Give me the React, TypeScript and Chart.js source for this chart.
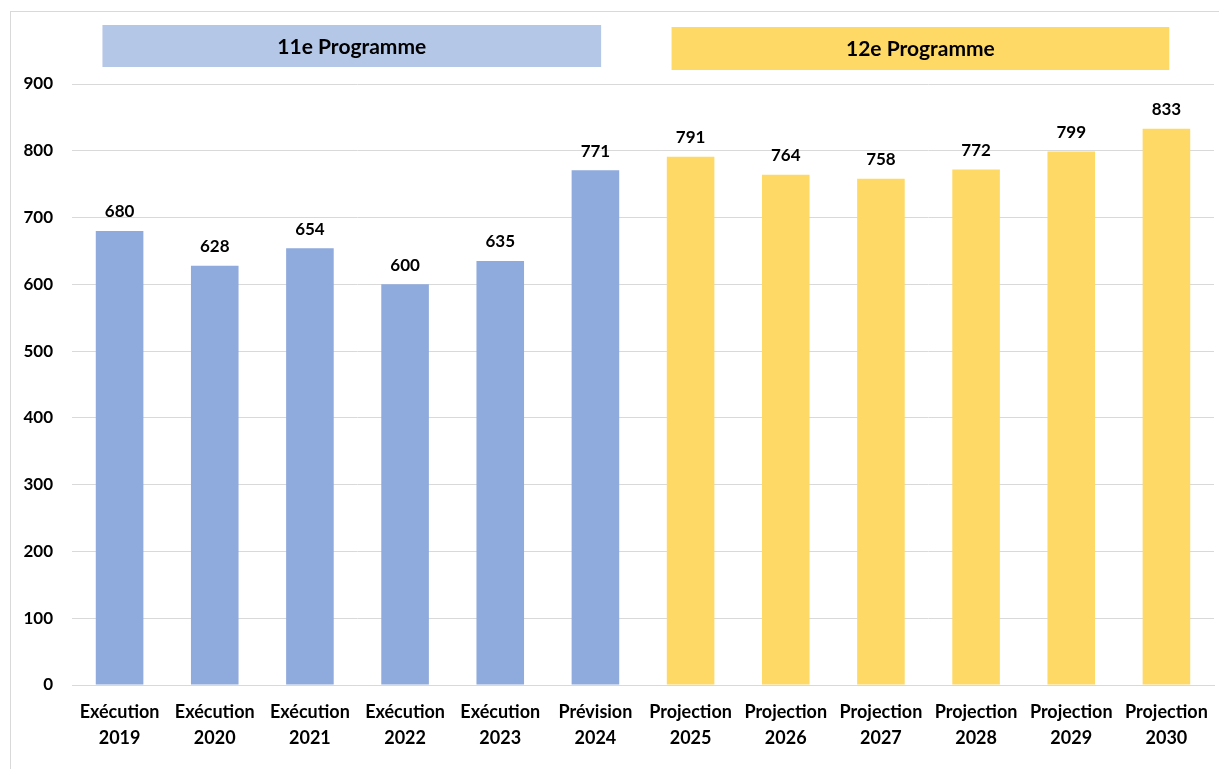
import React, { useEffect, useRef } from "react";
import { Chart, registerables } from "chart.js";

Chart.register(...registerables);

const categories: string[][] = [
  ["Exécution", "2019"],
  ["Exécution", "2020"],
  ["Exécution", "2021"],
  ["Exécution", "2022"],
  ["Exécution", "2023"],
  ["Prévision", "2024"],
  ["Projection", "2025"],
  ["Projection", "2026"],
  ["Projection", "2027"],
  ["Projection", "2028"],
  ["Projection", "2029"],
  ["Projection", "2030"],
];
const values: number[] = [680, 628, 654, 600, 635, 771, 791, 764, 758, 772, 799, 833];
const programmeOf: number[] = [11, 11, 11, 11, 11, 11, 12, 12, 12, 12, 12, 12];
const programmeLabels: string[] = ["11e Programme", "12e Programme"];

const BLUE = "#8FAADC";
const YELLOW = "#FFD966";
const BANNER_BLUE = "#B4C7E7";
const FONT = "Lato, 'Open Sans', sans-serif";

const bannerPlugin = {
  id: "banners",
  afterDraw(chart: any) {
    const { ctx } = chart;
    const x = chart.scales.x;
    const boxes = [
      { from: -0.18, to: 5.06, top: 25, h: 42, color: BANNER_BLUE, text: programmeLabels[0] },
      { from: 5.8, to: 11.03, top: 27, h: 43, color: YELLOW, text: programmeLabels[1] },
    ];
    ctx.save();
    boxes.forEach((b) => {
      const x0 = x.getPixelForValue(b.from);
      const x1 = x.getPixelForValue(b.to);
      ctx.fillStyle = b.color;
      ctx.fillRect(x0, b.top, x1 - x0, b.h);
      ctx.fillStyle = "#000";
      ctx.font = `bold 21px ${FONT}`;
      ctx.textAlign = "center";
      ctx.textBaseline = "middle";
      ctx.fillText(b.text, (x0 + x1) / 2, b.top + b.h / 2 + 1);
    });
    ctx.restore();
  },
};

const labelPlugin = {
  id: "valueLabels",
  afterDatasetsDraw(chart: any) {
    const { ctx } = chart;
    const meta = chart.getDatasetMeta(0);
    ctx.save();
    ctx.fillStyle = "#000";
    ctx.font = `bold 17px ${FONT}`;
    ctx.textAlign = "center";
    ctx.textBaseline = "middle";
    meta.data.forEach((bar: any, i: number) => {
      ctx.fillText(String(values[i]), bar.x, bar.y - 19);
    });
    ctx.restore();
  },
};

export default function App() {
  const ref = useRef<HTMLCanvasElement>(null);
  useEffect(() => {
    document.body.style.margin = "0";
    const chart = new Chart(ref.current!, {
      type: "bar",
      data: {
        labels: categories,
        datasets: [
          {
            data: values,
            backgroundColor: programmeOf.map((p) => (p === 11 ? BLUE : YELLOW)),
            categoryPercentage: 1,
            barPercentage: 0.5,
          },
        ],
      },
      options: {
        animation: false,
        responsive: false,
        layout: { padding: { top: 84, right: 5, left: 0, bottom: 0 } },
        plugins: { legend: { display: false }, tooltip: { enabled: false } },
        scales: {
          x: {
            grid: { display: false, drawTicks: false },
            border: { display: true, color: "#D9D9D9", width: 1 },
            ticks: {
              color: "#000",
              font: { family: FONT, size: 18, weight: "bold", lineHeight: 1.45 },
              padding: 14,
              maxRotation: 0,
              autoSkip: false,
            },
            afterFit: (s: any) => {
              s.height = 84;
              s.paddingLeft = 0;
              s.paddingRight = 0;
            },
          },
          y: {
            min: 0,
            max: 900,
            ticks: {
              stepSize: 100,
              color: "#000",
              font: { family: FONT, size: 17, weight: "bold" },
              padding: 19,
            },
            grid: { color: "#D9D9D9", drawTicks: false },
            border: { display: false },
            afterFit: (s: any) => {
              s.width = 72;
              s.paddingTop = 0;
              s.paddingBottom = 0;
            },
          },
        },
      },
      plugins: [bannerPlugin, labelPlugin],
    });
    return () => chart.destroy();
  }, []);
  return (
    <div style={{ position: "relative", width: 1219, height: 769, background: "#fff" }}>
      <div
        style={{
          position: "absolute",
          left: 10,
          top: 11,
          width: 1215,
          height: 770,
          border: "1px solid #D9D9D9",
          boxSizing: "border-box",
          pointerEvents: "none",
        }}
      />
      <canvas ref={ref} width={1219} height={769} style={{ display: "block" }} />
    </div>
  );
}
